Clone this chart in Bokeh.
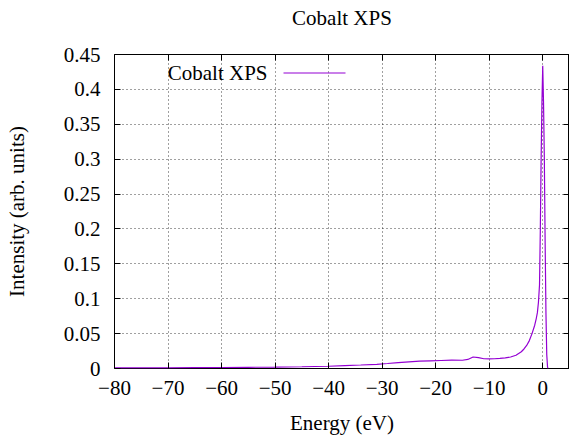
from bokeh.plotting import figure
from bokeh.models import (Range1d, FixedTicker, LinearAxis, Label, PolyAnnotation, Title)
from bokeh.embed import file_html
from bokeh.resources import INLINE

# ---- data ----
energy = [-80, -75, -70, -65, -60, -55, -50, -45, -40, -37, -34, -31, -29, -27, -25,
          -23, -21, -19, -17, -15, -14, -13, -12, -11, -10, -9, -8, -7, -6, -5, -4,
          -3.5, -3, -2.5, -2, -1.5, -1.2, -1.0, -0.8, -0.6, -0.45, -0.3, -0.15, 0,
          0.15, 0.3, 0.45, 0.6, 0.75, 0.9, 1.0]
intensity = [0.0008, 0.0009, 0.0010, 0.0012, 0.0014, 0.0017, 0.0020, 0.0025, 0.0032,
             0.0042, 0.0050, 0.0060, 0.0072, 0.0085, 0.0095, 0.0105, 0.0110, 0.0115,
             0.0120, 0.0118, 0.0130, 0.0165, 0.0155, 0.0140, 0.0138, 0.0140, 0.0145,
             0.0152, 0.0165, 0.0190, 0.0240, 0.0280, 0.0330, 0.0400, 0.0500, 0.0620,
             0.0720, 0.0800, 0.0950, 0.1200, 0.2000, 0.3000, 0.3800, 0.4340, 0.3800,
             0.3000, 0.1800, 0.0800, 0.0200, 0.0020, 0.0]

x_ticks = [-80, -70, -60, -50, -40, -30, -20, -10, 0]
x_tick_labels = ["\u221280", "\u221270", "\u221260", "\u221250", "\u221240",
                 "\u221230", "\u221220", "\u221210", "0"]
y_ticks = [0, 0.05, 0.1, 0.15, 0.2, 0.25, 0.3, 0.35, 0.4, 0.45]
y_tick_labels = ["0", "0.05", "0.1", "0.15", "0.2", "0.25", "0.3", "0.35", "0.4", "0.45"]

series_name = "Cobalt XPS"
title_text = "Cobalt XPS"
x_label = "Energy (eV)"
y_label = "Intensity (arb. units)"

FONT = "Liberation Serif"
FS = "21px"
LINE_COLOR = "#9400D3"

p = figure(width=569, height=437, output_backend="svg", toolbar_location=None,
           title=None,
           x_range=Range1d(-80, 5), y_range=Range1d(0, 0.45),
           min_border_left=114, min_border_right=0, min_border_top=54,
           min_border_bottom=69, x_axis_label=x_label, y_axis_label=y_label)

p.outline_line_color = "black"
p.outline_line_width = 1
p.outline_line_alpha = 1

r = p.line(energy, intensity, line_color=LINE_COLOR, line_width=1.2)

xo = {float(t): s for t, s in zip(x_ticks, x_tick_labels)}
xo.update({int(t): s for t, s in zip(x_ticks, x_tick_labels)})
yo = {float(t): s for t, s in zip(y_ticks, y_tick_labels)}
yo[0] = "0"

def style_axis(ax):
    ax.axis_line_color = None
    ax.major_tick_in = 6
    ax.major_tick_out = 0
    ax.minor_tick_line_color = None
    ax.major_tick_line_color = "black"
    ax.major_label_text_font = FONT
    ax.major_label_text_font_size = FS
    ax.major_label_text_color = "black"
    ax.axis_label_text_font = FONT
    ax.axis_label_text_font_size = FS
    ax.axis_label_text_font_style = "normal"
    ax.axis_label_text_color = "black"

for ax in p.xaxis:
    ax.ticker = FixedTicker(ticks=x_ticks)
    ax.major_label_overrides = xo
    style_axis(ax)
    ax.major_label_standoff = 12
    ax.axis_label_standoff = 13
for ax in p.yaxis:
    ax.ticker = FixedTicker(ticks=y_ticks)
    ax.major_label_overrides = yo
    style_axis(ax)
    ax.major_label_standoff = 14
    ax.axis_label_standoff = 32

# mirrored tick marks (no labels) on top and right
top_ax = LinearAxis(ticker=FixedTicker(ticks=x_ticks))
style_axis(top_ax)
top_ax.major_label_text_font_size = "0px"
top_ax.major_label_text_alpha = 0
top_ax.major_label_standoff = 0
top_ax.axis_label_standoff = 0
top_ax.major_label_overrides = {float(t): "" for t in x_ticks}
p.add_layout(top_ax, "above")
right_ax = LinearAxis(ticker=FixedTicker(ticks=y_ticks))
style_axis(right_ax)
right_ax.major_label_text_font_size = "0px"
right_ax.major_label_text_alpha = 0
right_ax.major_label_standoff = 0
right_ax.axis_label_standoff = 0
right_ax.major_label_overrides = {float(t): "" for t in y_ticks}
p.add_layout(right_ax, "right")

# title: an empty second line lifts it away from the frame
p.add_layout(Title(text=title_text + "\n ", align="center", text_font=FONT,
                   text_font_size=FS, text_font_style="normal", text_color="black",
                   standoff=2), "above")

p.xgrid.ticker = FixedTicker(ticks=x_ticks)
p.ygrid.ticker = FixedTicker(ticks=y_ticks)
for g in (p.xgrid[0], p.ygrid[0]):
    g.grid_line_color = "black"
    g.grid_line_alpha = 0.75
    g.grid_line_dash = "1 3"
    g.grid_line_width = 1

# key: text followed by a line sample (gnuplot style)
p.add_layout(Label(x=153, y=296, x_units="screen", y_units="screen",
                   text=series_name, text_font=FONT, text_font_size=FS,
                   text_align="right", text_baseline="middle", text_color="black"))
p.add_layout(PolyAnnotation(xs=[169, 231], ys=[295.5, 295.5], xs_units="screen",
                            ys_units="screen", line_color=LINE_COLOR, line_width=1.2,
                            line_alpha=1, fill_alpha=0))

open("out.html", "w").write(file_html(p, INLINE))
